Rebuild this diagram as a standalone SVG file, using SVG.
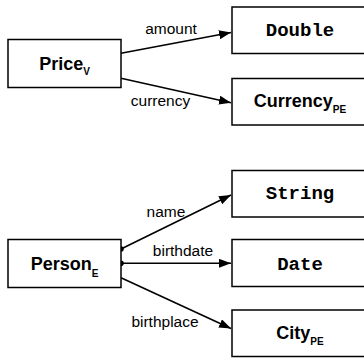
<svg xmlns="http://www.w3.org/2000/svg" width="364" height="358" viewBox="0 0 364 358">
<style>
.box{fill:#fff;stroke:#000;stroke-width:1.5}
.edge{fill:none;stroke:#000;stroke-width:1.6}
.nl{font-family:"Liberation Sans",Arial,sans-serif;font-weight:bold;font-size:18px;text-anchor:middle;fill:#000}
.sub{font-size:10px}
.mono{font-family:"Liberation Mono","Courier New",monospace;font-weight:bold;font-size:19px;text-anchor:middle;fill:#000}
.el{font-family:"Liberation Sans",Arial,sans-serif;font-size:15.5px;text-anchor:middle;fill:#000}
</style>
<defs>
<marker id="arr" markerUnits="userSpaceOnUse" markerWidth="13" markerHeight="10" refX="12" refY="4.5" orient="auto">
<path d="M0,0 L12,4.5 L0,9 z" fill="#000"/>
</marker>
</defs>
<rect width="364" height="358" fill="#fff"/>
<g id="connectors">
<path class="edge" d="M121,53.3 L231,32.5" marker-end="url(#arr)"/>
<path class="edge" d="M121,78.3 L231,102.7" marker-end="url(#arr)"/>
<path class="edge" d="M121,249 L231,195" marker-end="url(#arr)"/>
<path class="edge" d="M121,263.3 L231,263.3" marker-end="url(#arr)"/>
<path class="edge" d="M121,277.7 L231,328.5" marker-end="url(#arr)"/>
<circle cx="121" cy="249" r="2.8" fill="#000"/>
<circle cx="121" cy="263.3" r="2.8" fill="#000"/>
<text class="el" x="171" y="34">amount</text>
<text class="el" x="160.5" y="106">currency</text>
<text class="el" x="166" y="216.5">name</text>
<text class="el" x="183" y="256">birthdate</text>
<text class="el" x="165" y="326.5">birthplace</text>
</g>
<g id="price">
<rect class="box" x="8" y="39.5" width="113" height="48"/>
<text class="nl" x="64.5" y="70">Price<tspan class="sub" dy="5">V</tspan></text>
</g>
<g id="double">
<rect class="box" x="232" y="7" width="136" height="46.5"/>
<text class="mono" x="300" y="36">Double</text>
</g>
<g id="currency">
<rect class="box" x="232" y="78.5" width="136" height="46.5"/>
<text class="nl" x="300" y="106.7">Currency<tspan class="sub" dy="6.5">PE</tspan></text>
</g>
<g id="person">
<rect class="box" x="8" y="239.5" width="113" height="48"/>
<text class="nl" x="64.5" y="270">Person<tspan class="sub" dy="6.5">E</tspan></text>
</g>
<g id="string">
<rect class="box" x="232" y="170.5" width="136" height="46.5"/>
<text class="mono" x="300" y="198.5">String</text>
</g>
<g id="date">
<rect class="box" x="232" y="239.5" width="136" height="47"/>
<text class="mono" x="300" y="270">Date</text>
</g>
<g id="city">
<rect class="box" x="232" y="310" width="136" height="46.5"/>
<text class="nl" x="300" y="339.3">City<tspan class="sub" dy="6">PE</tspan></text>
</g>
</svg>
